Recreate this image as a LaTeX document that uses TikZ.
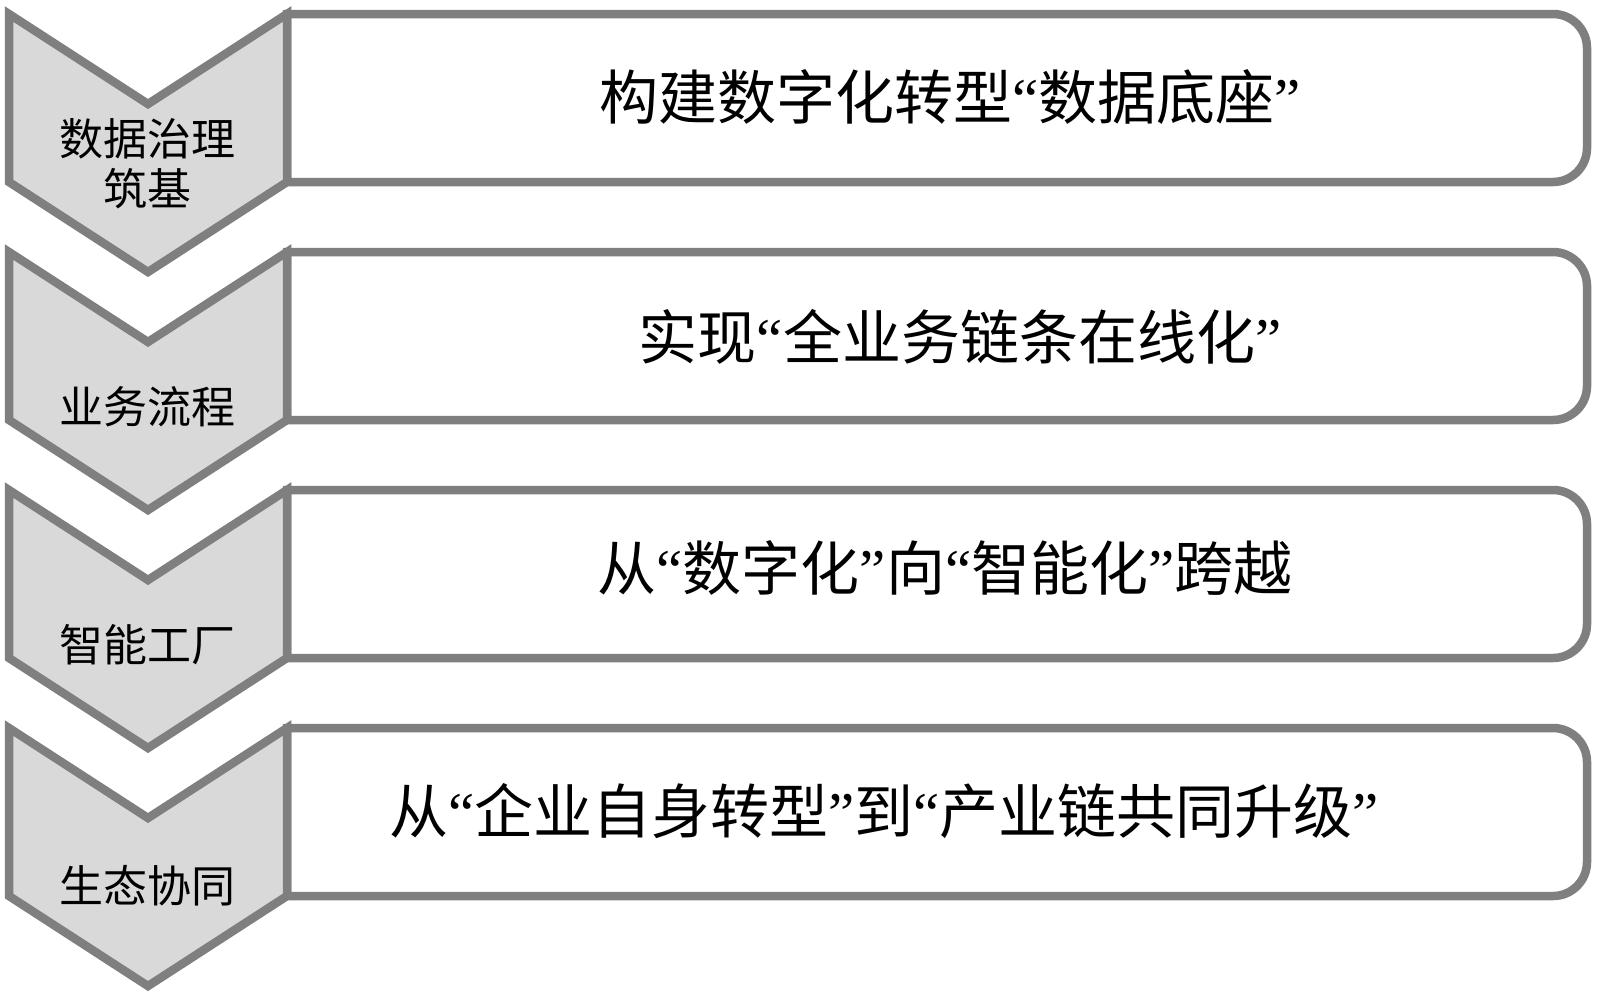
\documentclass[tikz,border=0pt]{standalone}
\usepackage{fontspec}
\newfontfamily\cjk{Noto Sans CJK SC}
\newfontfamily\qf{Liberation Serif}
\newcommand\lqm{{\qf “}}
\newcommand\rqm{{\qf ”}}
\definecolor{edgegray}{HTML}{7F7F7F}
\definecolor{fillgray}{HTML}{D9D9D9}
\tikzset{
  chev/.style={draw=edgegray, fill=fillgray, line width=8.5pt, miter limit=10},
  panel/.style={draw=edgegray, fill=white, line width=8.5pt},
  chevlabel/.style={font=\cjk\fontsize{44}{53}\selectfont, text=black, align=center, inner sep=0pt},
  panellabel/.style={font=\cjk\fontsize{59}{70}\selectfont, text=black, inner sep=0pt}
}
\begin{document}
\begin{tikzpicture}[x=1pt,y=-1pt]
\useasboundingbox (0,0) rectangle (1600,1005);
\foreach \t in {14,252,490,728}{
  \draw[panel] (287,\t) -- (1553,\t) arc[start angle=-90,end angle=0,radius=34]
     -- (1587,\t+134) arc[start angle=0,end angle=90,radius=34] -- (287,\t+168) -- cycle;
  \draw[chev] (9,\t) -- (148,\t+90) -- (287,\t) -- (287,\t+168) -- (148,\t+258) -- (9,\t+168) -- cycle;
}
\node[chevlabel] (c1) at (147,164) {数据治理\\[-3pt]筑基};
\node[chevlabel] (c2) at (147,407) {业务流程};
\node[chevlabel] (c3) at (147,645) {智能工厂};
\node[chevlabel] (c4) at (147,886) {生态协同};
\node[panellabel] (p1) at (950,97) {构建数字化转型\lqm 数据底座\rqm};
\node[panellabel] (p2) at (960,337) {实现\lqm 全业务链条在线化\rqm};
\node[panellabel] (p3) at (945,568) {从\lqm 数字化\rqm 向\lqm 智能化\rqm 跨越};
\node[panellabel] (p4) at (884,811) {从\lqm 企业自身转型\rqm 到\lqm 产业链共同升级\rqm};
\end{tikzpicture}
\end{document}
